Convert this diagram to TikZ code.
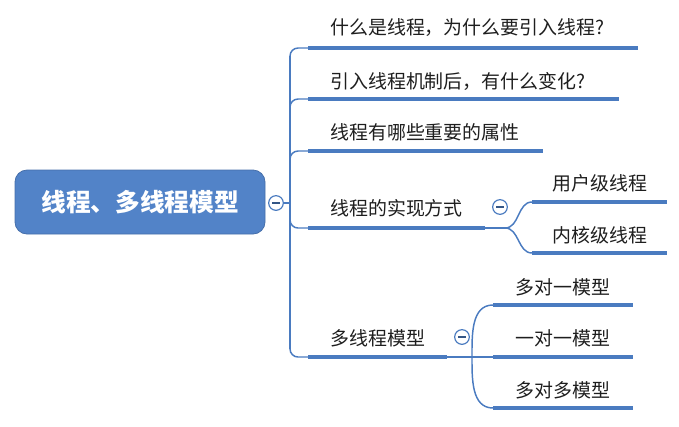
\documentclass[tikz,border=0pt]{standalone}
\usepackage{fontspec}
\setmainfont{Noto Sans CJK SC}
\definecolor{mmblue}{HTML}{4A7BC0}
\definecolor{rootfill}{HTML}{5283C8}
\definecolor{txt}{HTML}{1E1E1E}
\begin{document}
\begin{tikzpicture}[x=0.75pt,y=-0.75pt,
  link/.style={draw=mmblue, line width=1.1pt},
  under/.style={draw=mmblue, line width=3pt},
  btext/.style={anchor=west, inner sep=0pt, text=txt, font=\fontsize{14.2}{17}\selectfont},
  stext/.style={inner sep=0pt, text=txt, font=\fontsize{14.2}{17}\selectfont},
  rootbox/.style={rounded corners=9pt, fill=rootfill, draw=rootfill!85!black, line width=0.6pt,
    minimum width=187.5pt, minimum height=48pt, text=white, inner sep=0pt,
    font=\fontsize{18.5}{22}\selectfont\bfseries},
  fold/.style={circle, draw=mmblue, fill=white, line width=0.9pt, minimum size=11pt, inner sep=0pt,
    path picture={\draw[mmblue!70!black, line width=0.8pt]
      ([xshift=-2.8pt]path picture bounding box.center) -- ([xshift=2.8pt]path picture bounding box.center);}}
]
\useasboundingbox (0,0) rectangle (679,426);

% root
\node[rootbox] (root) at (140,202) {线程、多线程模型};
\node[fold] (f0) at (276,203) {};
\coordinate (tj) at (290,203);
\draw[link] (f0.east) -- (tj);

% trunk
\coordinate (tt) at (290,56);
\coordinate (tb) at (290,349);
\draw[link] (tt) -- (tb);

% branch texts
\node[btext] (b1) at (330,28) {什么是线程，为什么要引入线程?};
\node[btext] (b2) at (330,81) {引入线程机制后，有什么变化?};
\node[btext] (b3) at (330,132) {线程有哪些重要的属性};
\node[btext] (b4) at (330,208) {线程的实现方式};
\node[btext] (b5) at (330,338) {多线程模型};

% underline coordinates
\coordinate (u1s) at (308,48);  \coordinate (u1e) at (638,48);
\coordinate (u2s) at (308,99);  \coordinate (u2e) at (619,99);
\coordinate (u3s) at (308,151); \coordinate (u3e) at (543,151);
\coordinate (u4s) at (308,228); \coordinate (u4e) at (485,228);
\coordinate (u5s) at (308,357); \coordinate (u5e) at (447,357);

% trunk to branches
\draw[link] (tt) to[out=90,in=180] (298,48) -- (u1s);
\draw[link] (290,107) to[out=90,in=180] (298,99) -- (u2s);
\draw[link] (290,159) to[out=90,in=180] (298,151) -- (u3s);
\draw[link] (290,220) to[out=-90,in=180] (298,228) -- (u4s);
\draw[link] (tb) to[out=-90,in=180] (298,357) -- (u5s);

\draw[under] (u1s) -- (u1e);
\draw[under] (u2s) -- (u2e);
\draw[under] (u3s) -- (u3e);
\draw[under] (u4s) -- (u4e);
\draw[under] (u5s) -- (u5e);

% branch 4 children
\node[fold] (f4) at (500,207) {};
\coordinate (j4) at (505,228);
\draw[link] (u4e) -- (j4);
\coordinate (c41s) at (532,202); \coordinate (c41e) at (667,202);
\coordinate (c42s) at (532,253); \coordinate (c42e) at (667,253);
\draw[link] (j4) to[out=0,in=180] (c41s);
\draw[link] (j4) to[out=0,in=180] (c42s);
\draw[under] (c41s) -- (c41e);
\draw[under] (c42s) -- (c42e);
\node[stext] (s41) at (600,183) {用户级线程};
\node[stext] (s42) at (600,235) {内核级线程};

% branch 5 children
\node[fold] (f5) at (462,337) {};
\coordinate (c51s) at (493,305); \coordinate (c51e) at (633,305);
\coordinate (c52s) at (493,357); \coordinate (c52e) at (633,357);
\coordinate (c53s) at (493,408); \coordinate (c53e) at (633,408);
\coordinate (j5) at (472,357);
\draw[link] (u5e) -- (c52s);
\draw[link] (c51s) to[out=180,in=90] (j5) to[out=-90,in=180] (c53s);
\draw[under] (c51s) -- (c51e);
\draw[under] (c52s) -- (c52e);
\draw[under] (c53s) -- (c53e);
\node[stext] (s51) at (563,287) {多对一模型};
\node[stext] (s52) at (563,338) {一对一模型};
\node[stext] (s53) at (563,390) {多对多模型};
\end{tikzpicture}
\end{document}
